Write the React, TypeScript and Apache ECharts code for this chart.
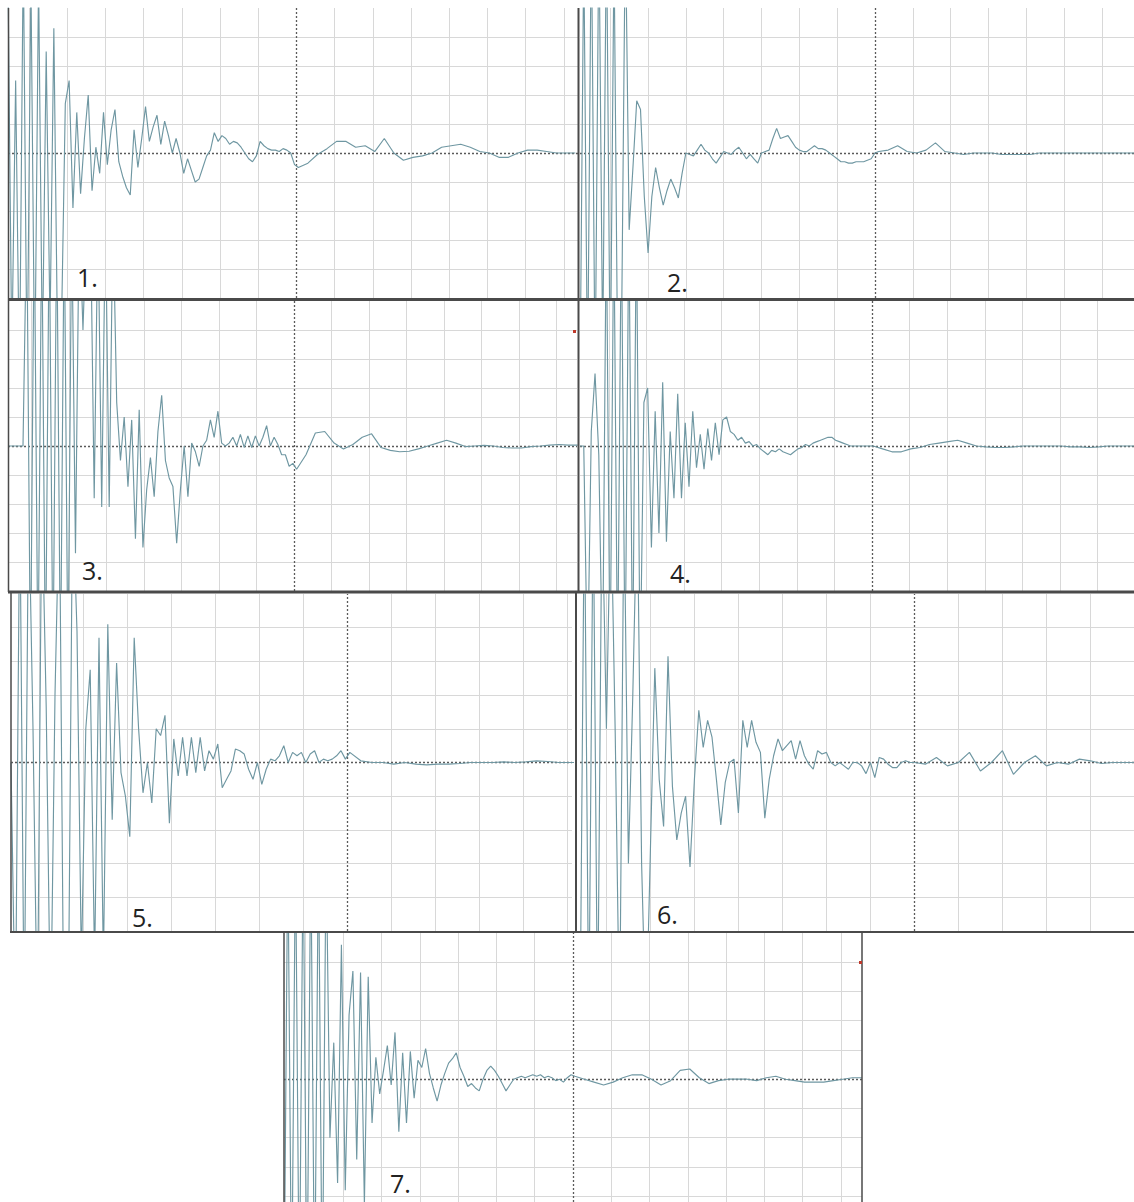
import { useEffect, useRef } from "react";
import * as echarts from "echarts";

// Oscilloscope traces, values in screen divisions (y), time in divisions (x).
// Each trace: start time, dense samples every 0.1 div, then tail samples every 0.25 div.
const sampleStep = 0.1;
const tailStep = 0.25;

const p1Start = -7.55;
const p1Early = [6, -7, 2.5, -8, 7, -8, 6, -8, 6, -7, 3.5, -6, 4.3, -7, -6, 1.7, 2.5, -1.9, 1.4, -1.4, 0.5, 2.0, -1.3, 0.2, -0.7, 1.4, -0.4, 0.8, 1.5, -0.3, -0.8, -1.2, -1.45, 0.8, -0.5, 0.5, 1.6, 0.4, 0.9, 1.3, 0.3, 1.1, 0.6, 0.0, 0.5, 0.0, -0.7, -0.2, -0.6, -1.0, -0.9, -0.5, -0.1, 0.1, 0.7, 0.4, 0.6, 0.5, 0.3, 0.4, 0.35, 0.2, 0.0, -0.2, -0.3, -0.1, 0.4, 0.25, 0.15, 0.1, 0.1, 0.05, 0.15, 0.1, 0.0, -0.4];
const p1Late = [-0.5, -0.35, -0.05, 0.15, 0.4, 0.4, 0.2, 0.25, 0.05, 0.5, 0.0, -0.25, -0.15, -0.1, 0.0, 0.2, 0.25, 0.3, 0.2, 0.05, 0.0, -0.15, -0.15, 0.0, 0.1, 0.1, 0.05, 0.0, 0.0, 0.0];

const p2Start = -7.8;
const p2Early = [-8, 7, -8, 8, -8, 8, -7, 8, -8, 7, -8, -6, 8, -2.65, -0.5, 1.8, 1.5, -1.5, -3.45, -1.5, -0.5, -1.2, -1.8, -1.3, -0.9, -1.2, -1.55, -0.7, 0, -0.05, -0.1, 0.1, 0.3, 0.1, 0, -0.2, -0.35, -0.15, 0.05, 0, -0.05, 0.1, 0.2, 0, -0.2, -0.05, -0.2, -0.35, 0, 0.05, 0.1, 0.5, 0.85, 0.5, 0.55, 0.6, 0.4, 0.2, 0.1, 0.05, 0.05, 0.15, 0.25, 0.15, 0.15, 0.1, 0, -0.1, -0.2, -0.3, -0.3, -0.35, -0.35, -0.3, -0.3, -0.3, -0.25, -0.2, 0];
const p2Late = [0.05, 0.1, 0.25, 0.05, 0, 0.1, 0.35, 0.05, 0, -0.05, 0, 0, 0, -0.05, -0.05, -0.05, -0.05, 0, 0, 0, 0, 0, 0, 0, 0, 0, 0, 0];

const p3Start = -7.63;
const p3Early = [0, 0, 0, 0, 0, 8, -8, 8, -8, 8, -8, 8, -8, 8, -8, 8, -8, 8, -3.7, 8, 4.0, 8, 8, -1.8, 8, -2.1, 8, -2.1, 8, 1.5, -0.5, 1.0, -1.4, 0.9, -3.2, 1.25, -3.5, -1.5, -0.4, -1.75, 0.5, 1.75, -0.5, -1.1, -1.4, -3.35, -1.5, 0, -1.75, 0.1, -0.2, -0.7, 0, 0.2, 0.9, 0.3, 1.2, 0.1, 0, 0.1, 0.3, 0, 0.4, -0.05, 0.35, -0.05, 0.35, 0, 0.3, 0.7, 0, 0.3, 0.05, -0.3, -0.3, -0.7, -0.6];
const p3Late = [-0.8, -0.3, 0.45, 0.5, 0.1, -0.1, 0.05, 0.3, 0.42, -0.05, -0.15, -0.2, -0.18, -0.1, 0, 0.1, 0.2, 0.1, -0.02, 0, 0.02, 0, -0.05, -0.07, -0.07, -0.02, 0, 0.03, 0.05, 0.03, 0.03];

const p4Start = -7.77;
const p4Early = [0, 0, -8, 0.5, 2.5, -0.3, -8, 8, -8, 8, -8, 8, -8, 8, -8, 8, -8, 1.5, 2.0, -3.5, 1.2, -3.0, 2.2, -3.3, 0.5, -1.8, 1.8, -1.8, 0.8, -1.4, 1.2, -0.75, 0.4, -0.8, 0.6, -0.5, 0.8, -0.3, 0.9, 1.0, 0.5, 0.4, 0.2, 0.3, 0.1, 0.15, 0, 0.05, -0.1, -0.2, -0.3, -0.15, -0.2, -0.1, -0.2, -0.25, -0.3, -0.2, -0.1, -0.05, 0.05, 0, 0.1, 0.15, 0.2, 0.25, 0.3, 0.3, 0.2, 0.15, 0.1, 0.05, 0, 0, 0, 0, 0, 0];
const p4Late = [0, -0.1, -0.2, -0.2, -0.1, -0.05, 0.05, 0.1, 0.15, 0.2, 0.1, 0, -0.03, -0.05, -0.05, -0.03, 0, 0, 0, 0, 0, -0.03, -0.03, -0.05, -0.03, 0, 0, 0, 0];

const p5Start = -7.64;
const p5Early = [0, -8, 8, -8, 8, 1.0, -8, 8, 1.65, -8, 2, 8, -8, -8, 8, 3.9, -6, 1, 2.75, -6, 3.7, -6, 4.1, -1.7, 2.95, -0.3, -1, -2.2, 3.7, 1.0, -0.9, 0, -1.2, 1.0, 0.8, 1.4, -1.8, 0.7, -0.4, 0.75, -0.4, 0.75, -0.3, 0.75, -0.25, 0.35, 0.1, 0.55, -0.75, -0.5, -0.25, 0.4, 0.35, 0.25, -0.2, -0.5, 0, -0.65, -0.2, 0.1, 0.05, 0.2, 0.5, 0, 0.3, 0.2, 0.3, 0, 0.25, 0.35, 0, 0.1, 0.05, 0.1, 0.2, 0.35, 0.1];
const p5Late = [0.3, 0.05, 0, 0, -0.05, 0, -0.05, -0.07, -0.05, -0.05, -0.03, 0, 0, 0, 0.02, 0, 0.02, 0.05, 0.03, 0, 0, 0];

const p6Start = -7.59;
const p6Early = [-8, 8, -8, 8, -8, 8, 1, 8, 0.9, -8, 8, -3.0, 2, 8, -3, -8, -2.6, 2.8, -0.5, -1.9, 3.15, -0.7, -2.3, -1.5, -1.0, -3.1, -0.5, 1.55, 0.45, 1.25, 0.75, -0.5, -1.85, -0.6, 0, 0.1, -1.5, 1.25, 0.45, 1.25, 0.6, 0.3, -1.65, -0.5, 0.2, 0.7, 0.35, 0.5, 0.65, 0.1, 0.65, 0.2, -0.05, -0.2, 0.35, 0.25, 0.3, 0, -0.1, 0, -0.1, -0.2, 0, 0, -0.1, -0.33, 0, -0.45, 0.15, 0.1, -0.05, -0.15, -0.15, 0, 0.05, 0];
const p6Late = [0, -0.05, 0.15, -0.1, 0, 0.3, -0.25, 0, 0.35, -0.35, 0, 0.2, -0.1, 0, -0.05, 0.1, 0.05, -0.03, 0, 0, 0];

const p7Start = -7.55;
const p7Early = [-8, 8, -8, 8, -8, 8, -8, 8, -8, 8, -8, 8, -2, 1.25, -3.55, 4.6, -3.8, 2.2, 3.7, -2.75, 3.65, -4.3, 3.5, -1.5, 0.75, -0.5, 0.3, 1.15, -0.2, 1.6, -1.8, 0.9, -1.5, 0.95, -0.65, 0.65, 0.4, 1.05, 0.2, -0.3, -0.75, -0.2, 0.2, 0.55, 0.7, 0.9, 0.4, 0.1, -0.25, -0.15, -0.3, -0.4, 0, 0.3, 0.45, 0.3, 0.1, -0.15, -0.4, -0.2, 0, 0.05, 0.1, 0.05, 0.1, 0.15, 0.1, 0.15, 0.05, 0.1, 0.05, -0.05, 0, -0.1, 0.05, 0.15];
const p7Late = [0.1, 0, -0.1, -0.2, -0.1, 0.05, 0.15, 0.15, 0, -0.2, -0.05, 0.3, 0.35, 0.05, -0.15, -0.05, 0, 0, 0, -0.05, 0.05, 0.1, 0, -0.05, -0.1, -0.1, -0.1, -0.05, 0, 0.05, 0.05];

const panelLabels = ["1.", "2.", "3.", "4.", "5.", "6.", "7."];

const traces = [
  { start: p1Start, early: p1Early, late: p1Late },
  { start: p2Start, early: p2Early, late: p2Late },
  { start: p3Start, early: p3Early, late: p3Late },
  { start: p4Start, early: p4Early, late: p4Late },
  { start: p5Start, early: p5Early, late: p5Late },
  { start: p6Start, early: p6Early, late: p6Late },
  { start: p7Start, early: p7Early, late: p7Late },
];

// Layout of each screen panel (pixels) and its visible window (divisions)
const layouts = [
  { left: 8, top: 8, width: 570, height: 290, xMin: -7.55, xMax: 7.37, yMin: -5, yMax: 5, lx: 77, ly: 277 },
  { left: 580, top: 8, width: 554, height: 290, xMin: -7.8, xMax: 6.85, yMin: -5, yMax: 5, lx: 667, ly: 282 },
  { left: 8, top: 301, width: 569, height: 290, xMin: -7.63, xMax: 7.55, yMin: -5, yMax: 5, lx: 82, ly: 570 },
  { left: 580, top: 301, width: 554, height: 290, xMin: -7.77, xMax: 6.97, yMin: -5, yMax: 5, lx: 670, ly: 573 },
  { left: 11, top: 594, width: 561, height: 337, xMin: -7.64, xMax: 5.11, yMin: -5, yMax: 5, lx: 132, ly: 917 },
  { left: 580, top: 594, width: 554, height: 337, xMin: -7.59, xMax: 5.0, yMin: -5, yMax: 5, lx: 657, ly: 914 },
  { left: 284, top: 933, width: 578, height: 269, xMin: -7.55, xMax: 7.55, yMin: -4.2, yMax: 5, lx: 390, ly: 1183 },
];

function toPairs(start: number, early: number[], late: number[]) {
  const pts: number[][] = early.map((v, i) => [+(start + i * sampleStep).toFixed(3), v]);
  const t0 = start + early.length * sampleStep;
  late.forEach((v, k) => pts.push([+(t0 + k * tailStep).toFixed(3), v]));
  return pts;
}

function gridLineData(L: any) {
  const d: any[] = [];
  for (let v = Math.ceil(L.xMin); v <= Math.floor(L.xMax); v++) {
    if (v !== 0 && v > L.xMin + 0.05 && v < L.xMax - 0.05) d.push({ xAxis: v });
  }
  for (let v = Math.ceil(L.yMin); v <= Math.floor(L.yMax); v++) {
    if (v !== 0 && v > L.yMin + 0.05 && v < L.yMax - 0.05) d.push({ yAxis: v });
  }
  return d;
}

export default function App() {
  const ref = useRef<HTMLDivElement>(null);
  useEffect(() => {
    if (!ref.current) return;
    const chart = echarts.init(ref.current, undefined, { renderer: "svg" });
    const grids: any[] = [];
    const xAxes: any[] = [];
    const yAxes: any[] = [];
    const series: any[] = [];
    layouts.forEach((L, i) => {
      grids.push({ left: L.left, top: L.top, width: L.width, height: L.height, show: false });
      xAxes.push({ gridIndex: i, type: "value", min: L.xMin, max: L.xMax, show: false });
      yAxes.push({ gridIndex: i, type: "value", min: L.yMin, max: L.yMax, show: false });
      series.push({
        type: "line",
        xAxisIndex: i,
        yAxisIndex: i,
        data: [],
        silent: true,
        z: 1,
        markLine: {
          silent: true,
          z: 1,
          symbol: ["none", "none"],
          label: { show: false },
          lineStyle: { color: "#d8d8d8", width: 1, type: "solid" },
          data: gridLineData(L),
        },
      });
      series.push({
        type: "line",
        xAxisIndex: i,
        yAxisIndex: i,
        data: [],
        silent: true,
        z: 2,
        markLine: {
          silent: true,
          z: 2,
          symbol: ["none", "none"],
          label: { show: false },
          lineStyle: { color: "#5a5a5a", width: 1.3, type: [2, 2] },
          data: [{ xAxis: 0 }, { yAxis: 0 }],
        },
      });
      const t = traces[i];
      series.push({
        type: "line",
        xAxisIndex: i,
        yAxisIndex: i,
        data: toPairs(t.start, t.early, t.late),
        symbol: "none",
        showSymbol: false,
        clip: true,
        silent: true,
        z: 3,
        lineStyle: { color: "#6f97a2", width: 1.15 },
      });
    });

    const dark = "#4a4a4a";
    const seg = (x1: number, y1: number, x2: number, y2: number, w: number) => ({
      type: "line",
      z: 20,
      silent: true,
      shape: { x1, y1, x2, y2 },
      style: { stroke: dark, lineWidth: w },
    });
    const graphics: any[] = [
      seg(8, 299.5, 1134, 299.5, 3),
      seg(8, 592, 1134, 592, 3),
      seg(10, 932, 1134, 932, 2),
      seg(578.5, 8, 578.5, 592, 2),
      seg(576, 593, 576, 932, 2),
      seg(8.5, 8, 8.5, 592, 1.5),
      seg(11, 593, 11, 932, 1.5),
      seg(284, 932, 284, 1202, 1.5),
      seg(862, 932, 862, 1202, 1.5),
      { type: "rect", z: 21, silent: true, shape: { x: 573, y: 330, width: 3, height: 3 }, style: { fill: "#c0392b" } },
      { type: "rect", z: 21, silent: true, shape: { x: 859, y: 961, width: 3, height: 3 }, style: { fill: "#c0392b" } },
    ];
    layouts.forEach((L, i) => {
      graphics.push({
        type: "text",
        z: 22,
        silent: true,
        x: L.lx,
        y: L.ly,
        style: {
          text: panelLabels[i],
          fontSize: 25,
          fontFamily: "Open Sans",
          fill: "#222222",
          align: "left",
          verticalAlign: "middle",
        },
      });
    });

    chart.setOption({
      animation: false,
      backgroundColor: "#ffffff",
      grid: grids,
      xAxis: xAxes,
      yAxis: yAxes,
      series,
      graphic: graphics,
    });
    return () => chart.dispose();
  }, []);
  return (
    <div
      ref={ref}
      style={{ position: "absolute", left: 0, top: 0, width: 1134, height: 1202, background: "#fff" }}
    />
  );
}
